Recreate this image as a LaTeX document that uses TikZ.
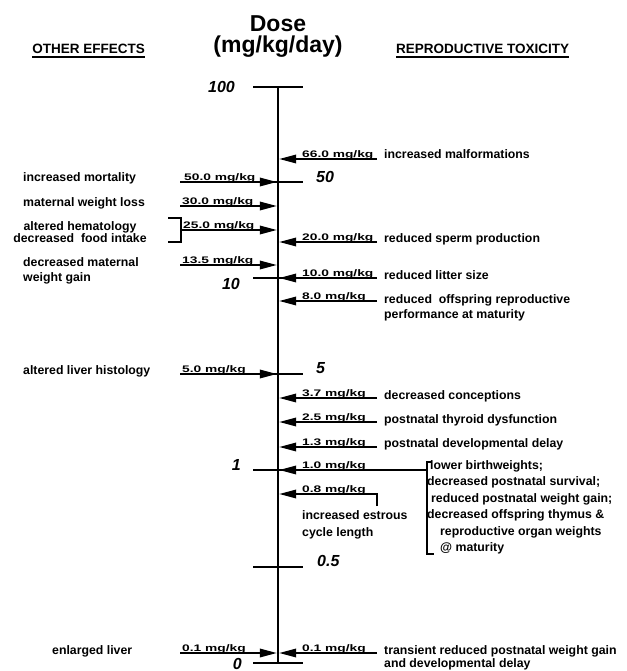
\documentclass[tikz,border=0pt]{standalone}
\usepackage{fontspec}
\setmainfont{Liberation Sans}
\newfontfamily\labfont{Liberation Sans}[FakeStretch=1.45]
\usetikzlibrary{arrows.meta,calc}
\begin{document}
\begin{tikzpicture}[x=1pt,y=-1pt,
  txt/.style={font=\bfseries\fontsize{12.3}{14}\selectfont, inner sep=0pt, anchor=base west},
  txtc/.style={font=\bfseries\fontsize{12.3}{14}\selectfont, inner sep=0pt, anchor=base},
  lab/.style={font=\labfont\bfseries\fontsize{9.5}{10}\selectfont, inner sep=0pt, anchor=base west},
  tk/.style={font=\bfseries\itshape\fontsize{16}{16}\selectfont, inner sep=0pt},
  ttl/.style={font=\bfseries\fontsize{23}{23}\selectfont, inner sep=0pt},
  hd/.style={font=\bfseries\fontsize{13.5}{14}\selectfont, inner sep=0pt},
  axisline/.style={line width=2.6pt},
  conn/.style={line width=1.8pt},
  arr/.style={conn, -{Triangle[length=17pt,width=8.5pt]}}]
\useasboundingbox (0,0) rectangle (626,671);
\fill[white] (0,0) rectangle (626,671);

% titles and headings
\node[ttl] (dose) at (278,23.5) {Dose};
\node[ttl] (unit) at (278,47) {(mg/kg/day)};
\node[hd, anchor=base east] (hother) at (145,54) {OTHER EFFECTS};
\node[hd, anchor=base west] (hrep) at (396,54) {REPRODUCTIVE TOXICITY};
\draw[line width=1.4pt] ($(hother.base west)+(0,3)$) -- ($(hother.base east)+(0,3)$);
\draw[line width=1.4pt] ($(hrep.base west)+(0,3)$) -- ($(hrep.base east)+(0,3)$);

% axis and ticks
\coordinate (axtop) at (278,87);
\coordinate (axbot) at (278,663);
\draw[axisline] (axtop) -- (axbot);
\foreach \nm/\y in {t100/87, t50/182, t10/278, t5/374, t1/470, t05/567, t0/663}{
  \coordinate (\nm a) at (253,\y);
  \coordinate (\nm b) at (303,\y);
  \draw[axisline] (\nm a) -- (\nm b);
}
\node[tk, anchor=east] (l100) at (235,87) {100};
\node[tk, anchor=west] (l50) at (316,177) {50};
\node[tk, anchor=east] (l10) at (240,284) {10};
\node[tk, anchor=west] (l5) at (316,368) {5};
\node[tk, anchor=east] (l1) at (241,465) {1};
\node[tk, anchor=west] (l05) at (317,561) {0.5};
\node[tk, anchor=east] (l0) at (242,663.5) {0};

% left arrows (other effects)
\foreach \id/\y/\sx/\lx/\v in {a/182/180/184/50.0, b/206/180/182/30.0, c/230/181/183/25.0, d/265/180/182/13.5, e/374/180/182/5.0, f/653/180/182/0.1}{
  \coordinate (L\id s) at (\sx,\y);
  \coordinate (L\id e) at (276.8,\y);
  \draw[arr] (L\id s) -- (L\id e);
  \node[lab] (L\id l) at (\lx,\y-1.5) {\v\ mg/kg};
}
% bracket for 25.0
\coordinate (bra) at (168,218);
\coordinate (brb) at (181,218);
\coordinate (brc) at (181,242);
\coordinate (brd) at (168,242);
\draw[conn] (bra) -- (brb) -- (brc) -- (brd);

% left texts
\node[txt] (o1) at (23,182) {increased mortality};
\node[txt] (o2) at (23,206) {maternal weight loss};
\node[txtc] (o3a) at (80,230) {altered hematology};
\node[txtc] (o3b) at (80,242) {decreased\ \ food intake};
\node[txt] (o4a) at (23,266) {decreased maternal};
\node[txt] (o4b) at (23,281) {weight gain};
\node[txt] (o5) at (23,374) {altered liver histology};
\node[txt] (o6) at (52,654) {enlarged liver};

% right arrows (reproductive toxicity)
\foreach \id/\y/\v in {a/159/66.0, b/242/20.0, c/278/10.0, d/301/8.0, e/398/3.7, f/422/2.5, g/447/1.3, j/653/0.1}{
  \coordinate (R\id s) at (377,\y);
  \coordinate (R\id e) at (279.2,\y);
  \draw[arr] (R\id s) -- (R\id e);
  \node[lab] (R\id l) at (302,\y-1.5) {\v\ mg/kg};
}
% 1.0 with bracket
\coordinate (Rhs) at (427,470);
\coordinate (Rhe) at (279.2,470);
\draw[arr] (Rhs) -- (Rhe);
\node[lab] (Rhl) at (302,468.5) {1.0 mg/kg};
\coordinate (bqa) at (431,462);
\coordinate (bqb) at (427,462);
\coordinate (bqc) at (427,554);
\coordinate (bqd) at (434,554);
\draw[conn] (bqa) -- (bqb) -- (bqc) -- (bqd);
% 0.8 with hook
\coordinate (Rih) at (377,506);
\coordinate (Ris) at (377,494);
\coordinate (Rie) at (279.2,494);
\draw[arr] (Rih) -- (Ris) -- (Rie);
\node[lab] (Ril) at (302,492.5) {0.8 mg/kg};

% right texts
\node[txt] (r1) at (384,159) {increased malformations};
\node[txt] (r2) at (384,242) {reduced sperm production};
\node[txt] (r3) at (384,279) {reduced litter size};
\node[txt] (r4a) at (384,303) {reduced\ \ offspring reproductive};
\node[txt] (r4b) at (384,318) {performance at maturity};
\node[txt] (r5) at (384,399) {decreased conceptions};
\node[txt] (r6) at (384,423) {postnatal thyroid dysfunction};
\node[txt] (r7) at (384,447) {postnatal developmental delay};
\node[txt] (r8a) at (430,469) {lower birthweights;};
\node[txt] (r8b) at (427,485.5) {decreased postnatal survival;};
\node[txt] (r8c) at (431,502) {reduced postnatal weight gain;};
\node[txt] (r8d) at (427,518.5) {decreased offspring thymus \&};
\node[txt] (r8e) at (440,535) {reproductive organ weights};
\node[txt] (r8f) at (440,551.5) {@ maturity};
\node[txt] (r9a) at (302,519) {increased estrous};
\node[txt] (r9b) at (302,536) {cycle length};
\node[txt] (r10a) at (384,654) {transient reduced postnatal weight gain};
\node[txt] (r10b) at (384,667) {and developmental delay};
\end{tikzpicture}
\end{document}
